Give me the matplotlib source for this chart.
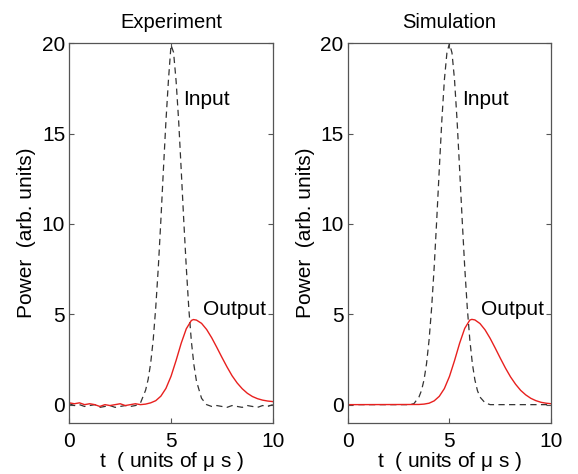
import numpy as np
import matplotlib
matplotlib.use("Agg")
import matplotlib.pyplot as plt

plt.rcParams['font.family'] = ['Liberation Sans', 'DejaVu Sans']

# -----------------------------------------------
# data
# -----------------------------------------------
# experiment, input pulse (dashed)
t_exp_in = [0.0, 0.25, 0.5, 0.75, 1.0, 1.25, 1.5, 1.75, 2.0, 2.25, 2.5, 2.75, 3.0, 3.25,
            3.5, 3.75, 3.875, 4.0, 4.125, 4.25, 4.375, 4.5, 4.625, 4.75, 4.875, 5.0,
            5.125, 5.25, 5.375, 5.5, 5.625, 5.75, 5.875, 6.0, 6.125, 6.25, 6.5, 6.75,
            7.0, 7.25, 7.5, 7.75, 8.0, 8.25, 8.5, 8.75, 9.0, 9.25, 9.5, 9.75, 10.0]
p_exp_in = [0.05, -0.05, 0.0, -0.1, -0.05, 0.0, -0.15, -0.1, -0.05, -0.15, -0.1, -0.05, -0.1, -0.05,
            0.1, 0.8, 1.4, 2.3, 3.6, 5.4, 7.6, 10.2, 13.0, 15.7, 18.0, 19.9,
            19.5, 17.9, 15.7, 13.0, 10.2, 7.6, 5.3, 3.5, 2.2, 1.3, 0.35, 0.0,
            -0.1, -0.05, -0.1, -0.15, -0.05, -0.1, -0.15, -0.05, -0.1, -0.15, -0.05, -0.1, 0.0]

# experiment, output pulse (red)
t_exp_out = [0.0, 0.25, 0.5, 0.75, 1.0, 1.25, 1.5, 1.75, 2.0, 2.25, 2.5, 2.75, 3.0, 3.25,
             3.5, 3.75, 4.0, 4.25, 4.5, 4.75, 5.0, 5.25, 5.5, 5.75, 6.0, 6.1, 6.25, 6.5,
             6.75, 7.0, 7.25, 7.5, 7.75, 8.0, 8.25, 8.5, 8.75, 9.0, 9.25, 9.5, 9.75, 10.0]
p_exp_out = [0.1, 0.05, 0.1, 0.0, 0.05, 0.0, -0.1, 0.0, -0.05, 0.0, 0.05, -0.05, 0.0, 0.05,
             0.0, 0.03, 0.1, 0.22, 0.47, 0.9, 1.57, 2.45, 3.4, 4.2, 4.66, 4.71, 4.68, 4.5,
             4.16, 3.7, 3.17, 2.62, 2.09, 1.6, 1.2, 0.88, 0.63, 0.45, 0.33, 0.25, 0.2, 0.17]

# simulation, input pulse (dashed)
t_sim_in = [0.0, 3.0, 3.25, 3.5, 3.625, 3.75, 3.875, 4.0, 4.125, 4.25, 4.375, 4.5, 4.625,
            4.75, 4.875, 5.0, 5.125, 5.25, 5.375, 5.5, 5.625, 5.75, 5.875, 6.0, 6.125,
            6.25, 6.375, 6.5, 6.75, 7.0, 10.0]
p_sim_in = [0.0, 0.0, 0.05, 0.42, 0.78, 1.37, 2.28, 3.6, 5.38, 7.62, 10.24, 13.03, 15.72,
            17.97, 19.47, 20.0, 19.47, 17.97, 15.72, 13.03, 10.24, 7.62, 5.38, 3.6, 2.28,
            1.37, 0.78, 0.42, 0.1, 0.0, 0.0]

# simulation, output pulse (red)
t_sim_out = [0.0, 3.5, 3.75, 4.0, 4.25, 4.5, 4.75, 5.0, 5.25, 5.5, 5.75, 6.0, 6.1, 6.25,
             6.5, 6.75, 7.0, 7.25, 7.5, 7.75, 8.0, 8.25, 8.5, 8.75, 9.0, 9.25, 9.5, 9.75, 10.0]
p_sim_out = [0.0, 0.01, 0.03, 0.08, 0.21, 0.46, 0.89, 1.56, 2.44, 3.4, 4.22, 4.68, 4.72, 4.69,
             4.49, 4.14, 3.67, 3.13, 2.57, 2.03, 1.54, 1.13, 0.79, 0.54, 0.35, 0.22, 0.13, 0.08, 0.05]

titles = ['Experiment', 'Simulation']
panels = [(t_exp_in, p_exp_in, t_exp_out, p_exp_out),
          (t_sim_in, p_sim_in, t_sim_out, p_sim_out)]

fig = plt.figure(figsize=(5.78, 4.74), dpi=100)
lefts = [0.1199, 0.6016]

for left, title, (ti, pi, to, po) in zip(lefts, titles, panels):
    ax = fig.add_axes([left, 0.1082, 0.352, 0.8004])
    ax.plot(ti, pi, color='#333333', linestyle=(0, (5, 3.5)), linewidth=0.9)
    ax.plot(to, po, color='#e8201e', linewidth=1.0)
    ax.set_xlim(0, 10)
    ax.set_ylim(-1, 20)
    ax.set_xticks([0, 5, 10])
    ax.set_yticks([0, 5, 10, 15, 20])
    ax.tick_params(direction='in', top=True, right=True, length=3.5, width=0.8,
                   color='#555555', labelsize=15)
    ax.tick_params(axis='x', pad=7)
    ax.tick_params(axis='y', pad=3)
    for s in ax.spines.values():
        s.set_color('#555555')
        s.set_linewidth(0.9)
    ax.set_title(title, fontsize=14.5, pad=11)
    ax.set_xlabel('t  ( units of $\\mathregular{\\mu}$ s )', fontsize=15, labelpad=-1)
    ax.set_ylabel('Power  (arb. units)', fontsize=15, labelpad=4)
    ax.text(5.6, 16.9, 'Input', fontsize=15, va='center', ha='left')
    ax.text(6.55, 5.25, 'Output', fontsize=15, va='center', ha='left')

fig.savefig('out.png', dpi=100)
